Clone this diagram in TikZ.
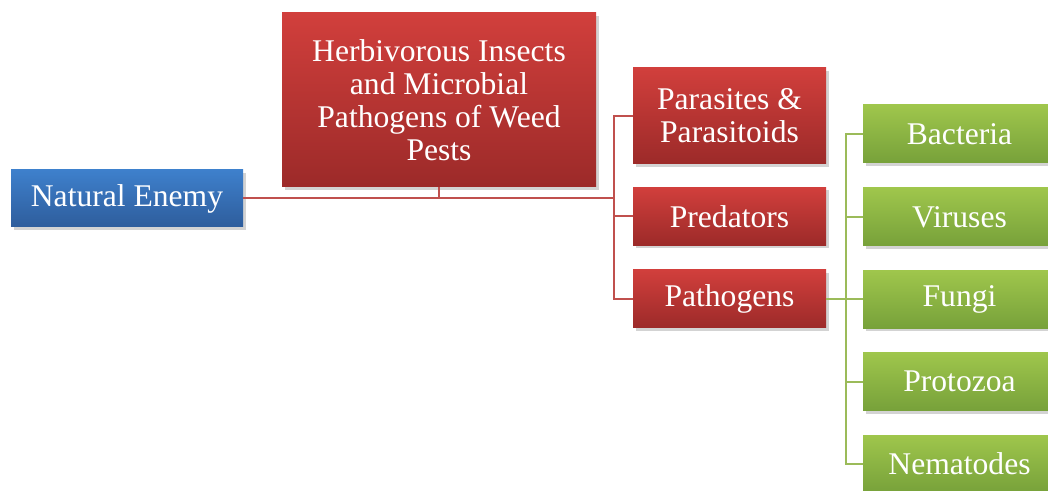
\documentclass[tikz,border=0pt]{standalone}
\usepackage{fontspec}
\setmainfont{Liberation Serif}
\usepackage{tikz}
\usetikzlibrary{shadows,positioning}

\definecolor{bluetop}{HTML}{3E80CC}
\definecolor{bluebot}{HTML}{2E5D9C}
\definecolor{redtop}{HTML}{D13F3C}
\definecolor{redbot}{HTML}{9C2A29}
\definecolor{greentop}{HTML}{9FC64C}
\definecolor{greenbot}{HTML}{77A13A}
\definecolor{redline}{HTML}{C0504D}
\definecolor{greenline}{HTML}{9BBB59}

\begin{document}
\begin{tikzpicture}[
  x=0.5pt, y=-0.5pt,
  every node/.style={font=\fontsize{15.8}{16.5}\selectfont, text=white, align=center, inner sep=0pt},
  box/.style={minimum width=96.5pt, minimum height=29pt,
    drop shadow={opacity=0.35, shadow xshift=1.5pt, shadow yshift=-1.5pt}},
  bluebox/.style={box, top color=bluetop, bottom color=bluebot},
  redbox/.style={box, top color=redtop, bottom color=redbot},
  greenbox/.style={box, top color=greentop, bottom color=greenbot},
  redln/.style={draw=redline, line width=1pt},
  greenln/.style={draw=greenline, line width=1pt},
]
  \useasboundingbox (0,0) rectangle (1048,491);
  \clip (0,0) rectangle (1048,491);

  % ---------- left side ----------
  \node[bluebox, minimum width=116pt, minimum height=28.5pt] (nat) at (127,198.5) {Natural Enemy};
  \node[redbox, minimum width=157pt, minimum height=87pt] (herb) at (439,100)
    {Herbivorous Insects\\and Microbial\\Pathogens of Weed\\Pests};

  % ---------- red column ----------
  \node[redbox, minimum height=48pt] (para) at (729.5,116) {Parasites \&\\Parasitoids};
  \node[redbox] (pred) at (729.5,216.5) {Predators};
  \node[redbox] (path) at (729.5,299) {Pathogens};

  % ---------- green column ----------
  \node[greenbox] (bact) at (959.5,134) {Bacteria};
  \node[greenbox] (viru) at (959.5,217) {Viruses};
  \node[greenbox] (fung) at (959.5,299.5) {Fungi};
  \node[greenbox] (prot) at (959.5,381.5) {Protozoa};
  \node[greenbox] (nema) at (959.5,464) {Nematodes};

  % connectors
  \coordinate (jr) at (614,198.5);
  \draw[redln] (nat.east) -- (jr);
  \draw[redln] (herb.south) -- (herb.south |- jr);
  \draw[redln] (jr) |- (para.west);
  \draw[redln] (jr) |- (pred.west);
  \draw[redln] (jr) |- (path.west);

  \coordinate (jg) at (846,299);
  \draw[greenln] (path.east) -- (jg);
  \foreach \n in {bact,viru,fung,prot,nema}
    \draw[greenln] (jg) |- (\n.west);
\end{tikzpicture}
\end{document}
